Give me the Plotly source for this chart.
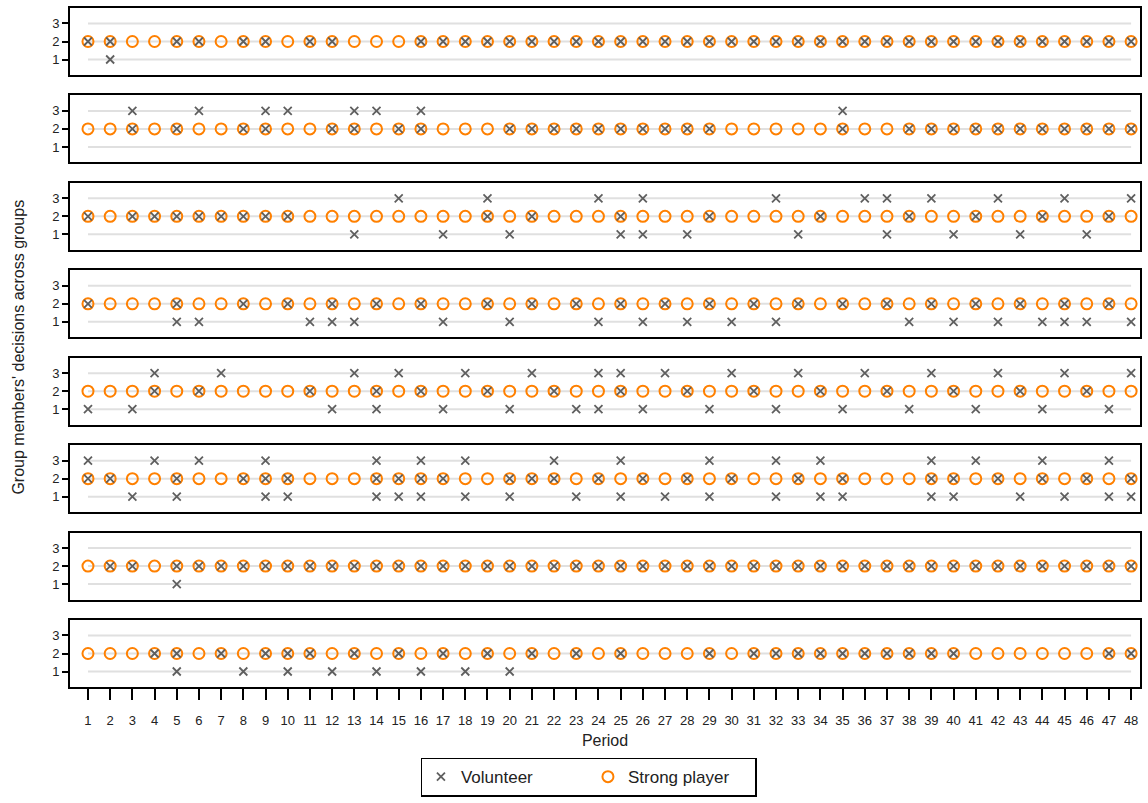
import plotly.graph_objects as go

# ---------------- data ----------------
periods = list(range(1, 49))
tick_labels = [str(p) for p in periods]
decision_levels = [1, 2, 3]

# Strong player's decision in every period (identical for all groups)
strong_player = [2, 2, 2, 2, 2, 2, 2, 2, 2, 2, 2, 2, 2, 2, 2, 2,
                 2, 2, 2, 2, 2, 2, 2, 2, 2, 2, 2, 2, 2, 2, 2, 2,
                 2, 2, 2, 2, 2, 2, 2, 2, 2, 2, 2, 2, 2, 2, 2, 2]

# Volunteer decisions: periods in which a volunteer chose 1, 2 or 3
g1_d1 = [2]
g1_d2 = [1, 2, 5, 6, 8, 9, 11, 12, 16, 17, 18, 19, 20, 21, 22, 23, 24, 25, 26, 27, 28,
         29, 30, 31, 32, 33, 34, 35, 36, 37, 38, 39, 40, 41, 42, 43, 44, 45, 46, 47, 48]
g1_d3 = []

g2_d1 = []
g2_d2 = [3, 5, 8, 9, 12, 13, 15, 16, 20, 21, 22, 23, 24, 25, 26, 27, 28, 29, 35, 38,
         39, 40, 41, 42, 43, 44, 45, 46, 47, 48]
g2_d3 = [3, 6, 9, 10, 13, 14, 16, 35]

g3_d1 = [13, 17, 20, 25, 26, 28, 33, 37, 40, 43, 46]
g3_d2 = [1, 3, 4, 5, 6, 7, 8, 9, 10, 19, 21, 25, 29, 34, 38, 41, 44, 47]
g3_d3 = [15, 19, 24, 26, 32, 36, 37, 39, 42, 45, 48]

g4_d1 = [5, 6, 11, 12, 13, 17, 20, 24, 26, 28, 30, 32, 38, 40, 42, 44, 45, 46, 48]
g4_d2 = [1, 5, 8, 10, 12, 14, 16, 19, 21, 23, 25, 27, 29, 31, 33, 35, 37, 39, 41, 43, 45, 47]
g4_d3 = []

g5_d1 = [1, 3, 12, 14, 17, 20, 23, 24, 26, 29, 32, 35, 38, 41, 44, 47]
g5_d2 = [4, 6, 11, 14, 16, 19, 22, 25, 28, 31, 34, 37, 40, 43, 46]
g5_d3 = [4, 7, 13, 15, 18, 21, 24, 25, 27, 30, 33, 36, 39, 42, 45, 48]

g6_d1 = [3, 5, 9, 10, 14, 15, 16, 18, 20, 23, 25, 27, 29, 32, 34, 35, 39, 40, 43, 45, 47, 48]
g6_d2 = [1, 2, 5, 8, 9, 10, 14, 15, 16, 17, 20, 21, 22, 24, 26, 28, 30, 33, 35, 39, 40,
         42, 44, 46, 48]
g6_d3 = [1, 4, 6, 9, 14, 16, 18, 22, 25, 29, 32, 34, 39, 41, 44, 47]

g7_d1 = [5]
g7_d2 = [2, 3, 5, 6, 7, 8, 9, 10, 11, 12, 13, 14, 15, 16, 17, 18, 19, 20, 21, 22, 23, 24,
         25, 26, 27, 28, 29, 30, 31, 32, 33, 34, 35, 36, 37, 38, 39, 40, 41, 42, 43, 44,
         45, 46, 47, 48]
g7_d3 = []

g8_d1 = [5, 8, 10, 12, 14, 16, 18, 20]
g8_d2 = [4, 5, 7, 9, 10, 11, 13, 15, 17, 19, 21, 23, 25, 29, 31, 32, 33, 34, 35, 36, 37,
         38, 39, 40, 47, 48]
g8_d3 = []

groups = [
    (g1_d1, g1_d2, g1_d3), (g2_d1, g2_d2, g2_d3), (g3_d1, g3_d2, g3_d3),
    (g4_d1, g4_d2, g4_d3), (g5_d1, g5_d2, g5_d3), (g6_d1, g6_d2, g6_d3),
    (g7_d1, g7_d2, g7_d3), (g8_d1, g8_d2, g8_d3),
]

# ---------------- styling ----------------
W, H = 1148, 803
ML, MR, MT, MB = 70, 6, 8, 116
plot_h = H - MT - MB
panel_px = 67
n = len(groups)
step_px = (plot_h - panel_px) / (n - 1)
FONT = "Liberation Sans, Arial, sans-serif"
GREY = "#5f5f5f"
ORANGE = "#FF8000"

fig = go.Figure()
layout_axes = {}
shapes = []
for i, (d1, d2, d3) in enumerate(groups):
    k = "" if i == 0 else str(i + 1)
    xa, ya = "x" + k, "y" + k
    top = min(1.0, 1 - i * step_px / plot_h)
    bot = max(0.0, top - panel_px / plot_h)

    for lv in decision_levels:
        shapes.append(dict(type="line", xref=xa, yref=ya, x0=periods[0], x1=periods[-1],
                           y0=lv, y1=lv, line=dict(color="#e0e0e0", width=2), layer="below"))

    fig.add_trace(go.Scatter(
        x=periods, y=strong_player, mode="markers", name="Strong player",
        legendgroup="sp", showlegend=(i == 0), legendrank=2,
        marker=dict(symbol="circle-open", size=11, color=ORANGE, line=dict(width=2, color=ORANGE)),
        xaxis=xa, yaxis=ya, hoverinfo="x+y"))
    vx = d1 + d2 + d3
    vy = [1] * len(d1) + [2] * len(d2) + [3] * len(d3)
    fig.add_trace(go.Scatter(
        x=vx, y=vy, mode="markers", name="Volunteer",
        legendgroup="vol", showlegend=(i == 0), legendrank=1,
        marker=dict(symbol="x-thin", size=8, color=GREY, line=dict(width=1.8, color=GREY)),
        xaxis=xa, yaxis=ya, hoverinfo="x+y"))

    is_bottom = (i == n - 1)
    xax = dict(
        domain=[0, 1], range=[0.19, 48.4], anchor=ya,
        showline=True, linecolor="black", linewidth=2, mirror=True,
        showgrid=False, zeroline=False,
        tickmode="array", tickvals=periods, ticktext=tick_labels,
        showticklabels=is_bottom, ticks="outside" if is_bottom else "",
        ticklen=11, tickwidth=1.5, tickcolor="black",
        tickfont=dict(size=13, color="#222", family=FONT),
    )
    if is_bottom:
        xax["ticklabelstandoff"] = 9
        xax["title"] = dict(text="Period", font=dict(size=16, color="#222", family=FONT), standoff=8)
    if i > 0:
        xax["matches"] = "x"
    layout_axes["xaxis" + k] = xax
    layout_axes["yaxis" + k] = dict(
        domain=[bot, top], range=[0.14, 3.86], anchor=xa,
        showline=True, linecolor="black", linewidth=2, mirror=True,
        showgrid=False, zeroline=False,
        tickmode="array", tickvals=decision_levels, ticktext=[str(v) for v in decision_levels],
        ticks="outside", ticklen=6, tickwidth=1.5, tickcolor="black",
        tickfont=dict(size=13, color="#222", family=FONT),
    )

fig.update_layout(**layout_axes)
fig.update_layout(
    width=W, height=H,
    margin=dict(l=ML, r=MR, t=MT, b=MB),
    paper_bgcolor="white", plot_bgcolor="white",
    shapes=shapes,
    font=dict(family=FONT, color="#222"),
    showlegend=True,
    legend=dict(orientation="h", x=0.485, xanchor="center", y=-0.104, yanchor="top",
                bordercolor="black", borderwidth=1.5, font=dict(size=17, family=FONT, color="#222"),
                itemsizing="trace", itemwidth=30, entrywidth=122, tracegroupgap=0),
    annotations=[dict(text="Group members' decisions across groups", textangle=-90,
                      xref="paper", yref="paper", x=-0.0485, y=0.5, xanchor="center", yanchor="middle",
                      showarrow=False, font=dict(size=16, family=FONT, color="#222"))],
)

fig.write_html("out.html", config={"displayModeBar": False},
               post_script="document.body.style.margin='0';document.body.style.overflow='hidden';")
